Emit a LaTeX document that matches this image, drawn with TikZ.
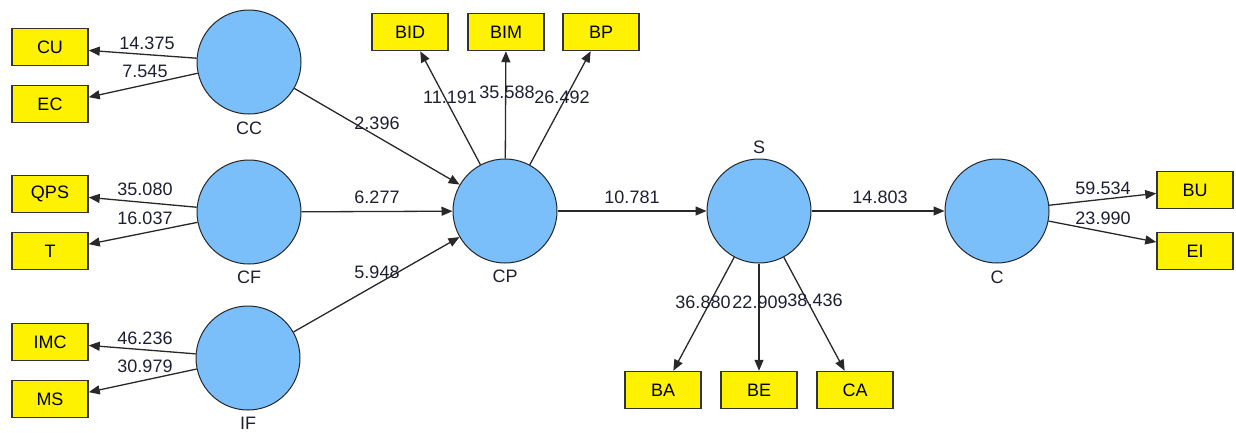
\documentclass[tikz,border=0pt]{standalone}
\usepackage{fontspec}
\setmainfont{Liberation Sans}
\usetikzlibrary{arrows.meta}
\definecolor{lvblue}{RGB}{122,190,250}
\definecolor{lnc}{RGB}{40,40,40}
\definecolor{txtc}{RGB}{30,30,50}
\begin{document}
\begin{tikzpicture}[x=1pt,y=-1pt,font=\fontsize{18}{20}\selectfont,
  lv/.style={circle,draw=black!85,line width=1pt,fill=lvblue,minimum size=104pt,inner sep=0pt},
  mv/.style={draw=black!80,line width=1.5pt,fill=yellow,minimum width=76pt,minimum height=37pt,inner sep=0pt},
  arr/.style={draw=lnc,line width=1.3pt,-{Triangle[length=11pt,width=9pt]}},
  val/.style={inner sep=0pt,text=txtc},
  nm/.style={inner sep=0pt,text=txtc}]
\useasboundingbox (0,0) rectangle (1236,432);
% latent variables
\node[lv] (CC) at (249,62) {};
\node[lv] (CF) at (249,212) {};
\node[lv] (IF) at (248,358) {};
\node[lv] (CP) at (505,211) {};
\node[lv] (S) at (759,211) {};
\node[lv] (C) at (997,211) {};
\node[nm] (lCC) at (249,128) {CC};
\node[nm] (lCF) at (249,277) {CF};
\node[nm] (lIF) at (248,423) {IF};
\node[nm] (lCP) at (505,276) {CP};
\node[nm] (lS) at (759,147) {S};
\node[nm] (lC) at (997,277) {C};
% indicators
\node[mv] (CU) at (50,47) {CU};
\node[mv] (EC) at (50,104) {EC};
\node[mv] (QPS) at (50,194) {QPS};
\node[mv] (T) at (50,251) {T};
\node[mv] (IMC) at (50,342) {IMC};
\node[mv] (MS) at (50,399) {MS};
\node[mv] (BID) at (410,32) {BID};
\node[mv] (BIM) at (506,32) {BIM};
\node[mv] (BP) at (601,32) {BP};
\node[mv] (BA) at (663,390) {BA};
\node[mv] (BE) at (759,390) {BE};
\node[mv] (CA) at (855,390) {CA};
\node[mv] (BU) at (1195,190) {BU};
\node[mv] (EI) at (1195,251) {EI};
% connectors
\draw[arr] (CC) -- (CU.-5);
\draw[arr] (CC) -- (EC.10);
\draw[arr] (CF) -- (QPS.-5);
\draw[arr] (CF) -- (T.10);
\draw[arr] (IF) -- (IMC.-5);
\draw[arr] (IF) -- (MS.10);
\draw[arr] (CC) -- (CP);
\draw[arr] (CF) -- (CP);
\draw[arr] (IF) -- (CP);
\draw[arr] (CP) -- (BID);
\draw[arr] (CP) -- (BIM);
\draw[arr] (CP) -- (BP);
\draw[arr] (CP) -- (S);
\draw[arr] (S) -- (BA);
\draw[arr] (S) -- (BE);
\draw[arr] (S) -- (CA);
\draw[arr] (S) -- (C);
\draw[arr] (C) -- (BU.185);
\draw[arr] (C) -- (EI.167);
% values
\node[val] (v1) at (147,43) {14.375};
\node[val] (v2) at (145,71) {7.545};
\node[val] (v3) at (145,189) {35.080};
\node[val] (v4) at (145,218) {16.037};
\node[val] (v5) at (145,338) {46.236};
\node[val] (v6) at (145,366) {30.979};
\node[val] (v7) at (377,123) {2.396};
\node[val] (v8) at (377,197) {6.277};
\node[val] (v9) at (377,272) {5.948};
\node[val] (v10) at (450,97) {11.191};
\node[val] (v11) at (507,92) {35.588};
\node[val] (v12) at (562,97) {26.492};
\node[val] (v13) at (632,197) {10.781};
\node[val] (v14) at (880,197) {14.803};
\node[val] (v15) at (703,302) {36.880};
\node[val] (v16) at (760,302) {22.909};
\node[val] (v17) at (815,300) {38.436};
\node[val] (v18) at (1103,188) {59.534};
\node[val] (v19) at (1103,218) {23.990};
\end{tikzpicture}
\end{document}
